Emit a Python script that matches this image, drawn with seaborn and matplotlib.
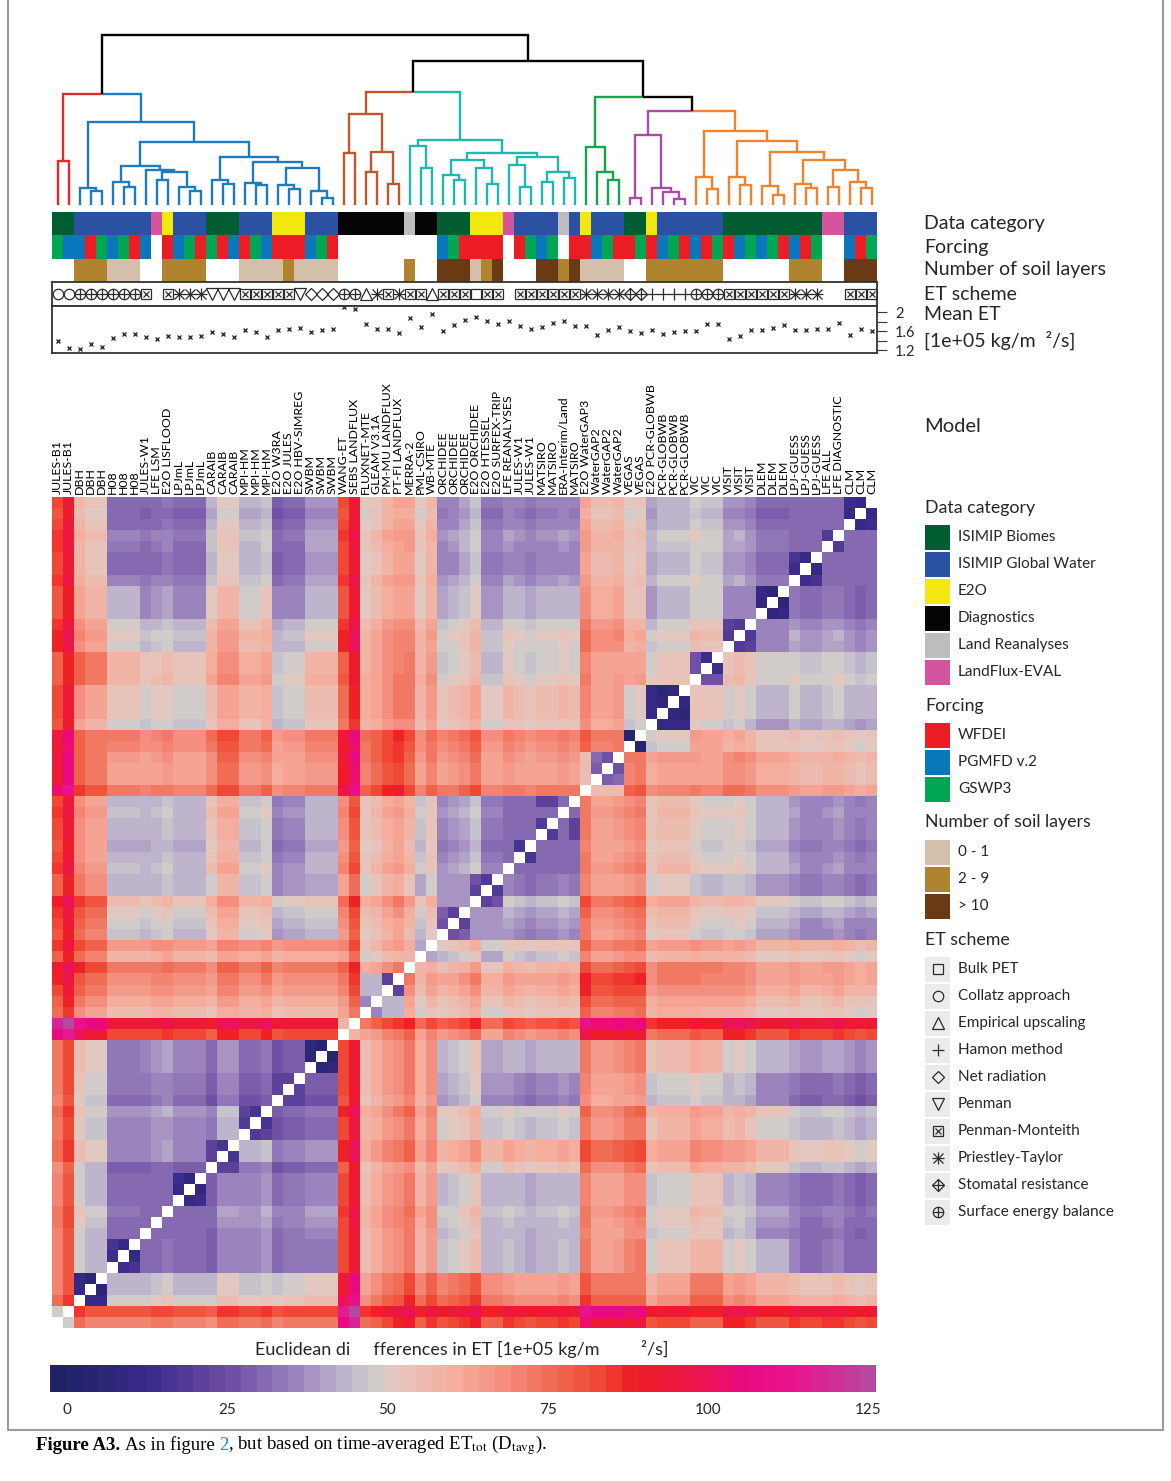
import numpy as np
import pandas as pd
import seaborn as sns
import matplotlib
matplotlib.use("Agg")
import matplotlib.pyplot as plt
from matplotlib.colors import LinearSegmentedColormap, ListedColormap, Normalize
from matplotlib.cm import ScalarMappable
from matplotlib.patches import Rectangle

sns.set_theme(style="white")
plt.rcParams['font.family'] = ['Lato', 'DejaVu Sans']
plt.rcParams['mathtext.fontset'] = 'stix'

# ---------------- data ----------------
models = ["JULES-B1", "JULES-B1", "DBH", "DBH", "DBH", "H08", "H08", "H08", "JULES-W1",
          "LFE LSM", "E2O LISFLOOD", "LPJmL", "LPJmL", "LPJmL", "CARAIB", "CARAIB", "CARAIB",
          "MPI-HM", "MPI-HM", "MPI-HM", "E2O W3RA", "E2O JULES", "E2O HBV-SIMREG",
          "SWBM", "SWBM", "SWBM", "WANG-ET", "SEBS LANDFLUX", "FLUXNET-MTE", "GLEAM V3.1A",
          "PM-MU LANDFLUX", "PT-FI LANDFLUX", "MERRA-2", "PML-CSIRO", "WB-MTE",
          "ORCHIDEE", "ORCHIDEE", "ORCHIDEE", "E2O ORCHIDEE", "E2O HTESSEL",
          "E2O SURFEX-TRIP", "LFE REANALYSES", "JULES-W1", "JULES-W1", "MATSIRO", "MATSIRO",
          "ERA-Interim/Land", "MATSIRO", "E2O WaterGAP3", "WaterGAP2", "WaterGAP2",
          "WaterGAP2", "VEGAS", "VEGAS", "E2O PCR-GLOBWB", "PCR-GLOBWB", "PCR-GLOBWB",
          "PCR-GLOBWB", "VIC", "VIC", "VIC", "VISIT", "VISIT", "VISIT", "DLEM", "DLEM", "DLEM",
          "LPJ-GUESS", "LPJ-GUESS", "LPJ-GUESS", "LFE ALL", "LFE DIAGNOSTIC", "CLM", "CLM", "CLM"]

# B biomes, W global water, E E2O, D diagnostics, R land reanalyses, L LandFlux-EVAL
category_codes = "BBWWWWWWWLEWWWBBBWWWEEEWWWDDDDDDRDDBBBEEELWWWWRWEWWWBBEWWWWWWBBBBBBBBBLLWWW"
# F WFDEI, P PGMFD v.2, G GSWP3, - none
forcing_codes = "GPPFGPGFP-FPGFGFPFGPFFFPGF---------PGFFFF-FGPG-FFPGFFGFPGFPFGFPGPGFPFG--PFG"
# s 0-1, m 2-9, d >10, - none
soil_codes = "--mmmsss--mmmm---ssssmssss------m--dddsmd---ddmdssss--mmmmmmm------mmm--ddd"
# ET scheme symbols
et_codes = "ooeeeeeex_x***vvvxxxxxvdddee^*x*xx^xxxsxx_xxxxxx****rr++++eeexxxxxx***__xxx"

mean_et = [1.40, 1.25, 1.22, 1.33, 1.27, 1.45, 1.55, 1.55, 1.47, 1.43,
           1.50, 1.47, 1.48, 1.49, 1.59, 1.54, 1.47, 1.62, 1.58, 1.47,
           1.63, 1.64, 1.66, 1.59, 1.62, 1.65, 2.11, 2.06, 1.75, 1.65,
           1.65, 1.57, 1.87, 1.69, 1.97, 1.61, 1.74, 1.83, 1.89, 1.81,
           1.76, 1.81, 1.71, 1.65, 1.68, 1.77, 1.81, 1.70, 1.71, 1.52,
           1.62, 1.68, 1.60, 1.57, 1.62, 1.54, 1.59, 1.61, 1.60, 1.76,
           1.75, 1.44, 1.49, 1.62, 1.63, 1.67, 1.73, 1.62, 1.63, 1.64,
           1.65, 1.78, 1.52, 1.64, 1.60]

# distance matrix, read block by block: model groups (start index of each block)
group_bounds = [0, 2, 5, 8, 14, 17, 20, 23, 26, 28, 32, 35, 41, 48, 52, 54, 58, 61, 67, 75]
# upper triangle of the block table (row g, columns g..18)
group_dist = [
    [47, 74, 75, 75, 77, 76, 77, 77, 115, 85, 87, 87, 87, 98, 97, 88, 81, 87, 87],
    [8, 42, 44, 47, 45, 48, 51, 100, 70, 76, 72, 64, 72, 72, 62, 72, 60, 52],
    [15, 30, 33, 36, 34, 34, 88, 62, 64, 48, 43, 64, 70, 52, 57, 45, 32],
    [30, 34, 36, 34, 37, 88, 62, 64, 46, 42, 62, 67, 48, 52, 40, 30],
    [18, 39, 33, 35, 90, 64, 66, 58, 58, 72, 78, 61, 65, 58, 48],
    [20, 28, 30, 90, 63, 66, 50, 46, 66, 72, 57, 60, 52, 42],
    [20, 28, 88, 62, 65, 42, 36, 62, 66, 48, 48, 40, 30],
    [6, 88, 62, 65, 45, 42, 65, 71, 56, 58, 45, 38],
    [57, 74, 75, 74, 74, 96, 96, 82, 84, 90, 88],
    [42, 58, 58, 58, 77, 79, 66, 64, 60, 56],
    [50, 50, 50, 68, 72, 64, 64, 58, 55],
    [38, 38, 66, 70, 55, 48, 45, 37],
    [30, 64, 68, 55, 48, 45, 35],
    [55, 70, 63, 62, 63, 55],
    [4, 48, 62, 55, 50],
    [10, 52, 45, 44],
    [18, 50, 45],
    [35, 34],
    [30],
]
# stripes: models that sit redder / bluer than their block
model_shift = {0: -4, 1: 6, 2: 5, 9: 2, 10: 3, 14: -5, 15: 3, 16: 3, 19: 3, 20: -2,
               26: -6, 27: 6, 28: -6, 29: -2, 30: 3, 31: 6, 32: 8, 33: -5, 34: 2,
               35: -2, 37: 3, 38: 8, 39: -4, 40: -4, 41: 2, 43: -2, 46: 2, 48: 8, 51: 2,
               53: 2, 54: -3, 58: 2, 61: 4, 62: 5, 63: 2, 64: -3, 65: -3, 66: -3, 67: 3,
               70: 2, 71: 3, 73: -2}
# dark pairs next to the diagonal
close_pairs = [(2, 3, 10), (2, 4, 12), (3, 4, 6), (5, 6, 14), (5, 7, 16), (6, 7, 12),
               (11, 12, 12), (11, 13, 14), (12, 13, 8), (14, 15, 20), (14, 16, 22), (15, 16, 15),
               (17, 18, 18), (17, 19, 20), (18, 19, 16), (23, 24, 6), (23, 25, 8), (24, 25, 4),
               (28, 29, 35), (30, 31, 20), (32, 33, 58), (32, 34, 60), (33, 34, 40),
               (35, 36, 25), (35, 37, 28), (36, 37, 22), (38, 39, 22), (38, 40, 25), (39, 40, 18),
               (42, 43, 15), (44, 45, 18), (44, 47, 20), (45, 47, 20),
               (49, 50, 28), (49, 51, 30), (50, 51, 25), (52, 53, 3),
               (54, 55, 12), (54, 56, 12), (54, 57, 12), (55, 56, 8), (55, 57, 6), (56, 57, 8),
               (58, 59, 25), (58, 60, 25), (59, 60, 14), (61, 62, 18), (61, 63, 20), (62, 63, 18),
               (64, 65, 8), (64, 66, 10), (65, 66, 6), (67, 68, 14), (67, 69, 16), (68, 69, 12),
               (70, 71, 18), (72, 73, 12), (72, 74, 14), (73, 74, 10)]

# dendrogram (left, right, merge height)
red_c = (0, 1, 132)
blue_c = ((2, (3, 4, 43), 52),
          (((5, (6, 7, 55), 70),
            (8, ((9, 10, 75), (11, (12, 13, 43), 55), 98), 104), 117),
           ((14, (15, 16, 63), 75),
            ((17, (18, 19, 60), 67),
             ((20, (21, 22, 49), 59), (23, (24, 25, 20), 42), 112), 130), 145), 190), 250)
brown_c = ((26, 27, 155), ((28, 29, 100), (30, 31, 63), 159), 273)
teal_c = ((32, (33, 34, 110), 178),
          (((35, (36, 37, 75), 90), (38, (39, 40, 63), 110), 135),
           ((41, (42, 43, 55), 119), ((44, 45, 70), (46, 47, 80), 99), 145), 157), 195)
green_c = (48, (49, (50, 51, 75), 100), 175)
purple_c = ((52, 53, 22), (54, (55, (56, 57, 17), 38), 50), 210)
orange_c = ((58, (59, 60, 47), 85),
            ((61, (62, 63, 60), 85),
             ((64, (65, 66, 31), 57),
              ((67, (68, 69, 50), 63), ((70, 71, 55), (72, (73, 74, 50), 70), 105), 135), 159),
             193), 223)
tree = ((red_c, blue_c, 333),
        ((brown_c, teal_c, 340), (green_c, (purple_c, orange_c, 283), 325), 433), 510)
cluster_spans = [(0, 1, '#e8262d'), (2, 25, '#1d7bc0'), (26, 31, '#c2562b'),
                 (32, 47, '#1fb8ae'), (48, 51, '#12a64b'), (52, 57, '#a64ea6'),
                 (58, 74, '#f2832e')]

cat_names = ["ISIMIP Biomes", "ISIMIP Global Water", "E2O", "Diagnostics",
             "Land Reanalyses", "LandFlux-EVAL"]
cat_colors = ["#035d32", "#2a51a2", "#f2e70f", "#050505", "#bdbdbd", "#d4549e"]
cat_keys = "BWEDRL"
forcing_names = ["WFDEI", "PGMFD v.2", "GSWP3"]
forcing_colors = ["#ec1c24", "#0a77bc", "#00a651"]
forcing_keys = "FPG"
soil_names = ["0 - 1", "2 - 9", "> 10"]
soil_colors = ["#d4bfab", "#b0832e", "#6a3a15"]
soil_keys = "smd"
et_names = ["Bulk PET", "Collatz approach", "Empirical upscaling", "Hamon method",
            "Net radiation", "Penman", "Penman-Monteith", "Priestley-Taylor",
            "Stomatal resistance", "Surface energy balance"]
et_keys = "so^+dvx*re"

cbar_stops = [(-2.6, "#1d2263"), (12, "#3a2a8a"), (25, "#6f4fa4"), (36, "#9e88c0"),
              (43, "#bfb5cc"), (47, "#cccccc"), (51, "#e4c8c0"), (60, "#f5b0a0"),
              (68, "#f49080"), (75, "#f07058"), (83, "#ef4a35"), (89, "#ee1c24"),
              (100, "#ec1450"), (106, "#ea0a80"), (115, "#e6168e"), (126.2, "#b8489e")]

# ---------------- build matrix ----------------
n = len(models)
ng = len(group_bounds) - 1
G = np.zeros((ng, ng))
for g, row in enumerate(group_dist):
    for k, v in enumerate(row):
        G[g, g + k] = v
        G[g + k, g] = v
grp = np.searchsorted(group_bounds, np.arange(n), side='right') - 1
shift = np.array([model_shift.get(i, 0) for i in range(n)], dtype=float)
D = G[grp][:, grp] + np.where(grp[:, None] != grp[None, :], shift[:, None] + shift[None, :], 0)
for i, j, v in close_pairs:
    D[i, j] = D[j, i] = v
np.fill_diagonal(D, np.nan)

vmin, vmax = -2.6, 126.2
cmap = LinearSegmentedColormap.from_list(
    "etdist", [((v - vmin) / (vmax - vmin), c) for v, c in cbar_stops], N=52)

# ---------------- figure ----------------
W, H = 1171, 1481
fig = plt.figure(figsize=(W / 100, H / 100), dpi=100)


def px_axes(x0, y0, x1, y1):
    return fig.add_axes([x0 / W, 1 - y1 / H, (x1 - x0) / W, (y1 - y0) / H])


# heatmap
ax_hm = px_axes(52, 497, 877, 1328)
sns.heatmap(pd.DataFrame(D[::-1]), ax=ax_hm, cmap=cmap, vmin=vmin, vmax=vmax,
            cbar=False, xticklabels=False, yticklabels=False)

# dendrogram
ax_d = px_axes(52, 30, 877, 207)


def leaves(node):
    if isinstance(node, int):
        return [node]
    return leaves(node[0]) + leaves(node[1])


def node_color(node):
    lv = leaves(node)
    for a, b, c in cluster_spans:
        if a <= min(lv) and max(lv) <= b:
            return c
    return 'black'


def draw(node):
    if isinstance(node, int):
        return node + 0.5, 0.0
    left, right, h = node
    pos = [draw(left), draw(right)]
    px = (pos[0][0] + pos[1][0]) / 2
    for child, (cx, ch) in zip((left, right), pos):
        ax_d.plot([cx, cx, px], [ch, h, h], color=node_color(child), lw=1.7,
                  solid_joinstyle='miter', solid_capstyle='butt')
    return px, h


draw(tree)
ax_d.set_xlim(0, n)
ax_d.set_ylim(-6, 525)
ax_d.axis('off')

# annotation bars
ax_a = px_axes(52, 212, 877, 282)
bar_colors = cat_colors + forcing_colors + soil_colors + ["#ffffff"]
white = len(bar_colors) - 1


def code_row(codes, keys, offset):
    return [offset + keys.index(c) if c in keys else white for c in codes]


bars = np.array([code_row(category_codes, cat_keys, 0),
                 code_row(forcing_codes, forcing_keys, 6),
                 code_row(soil_codes, soil_keys, 9)])
sns.heatmap(bars, ax=ax_a, cmap=ListedColormap(bar_colors), vmin=-0.5,
            vmax=len(bar_colors) - 0.5, cbar=False, xticklabels=False, yticklabels=False)

SYM = '#2b2b2b'


def symbol(ax, x, y, code, s=1.0):
    kw = dict(ls='none', mfc='none', mec=SYM, mew=0.9)
    if code == 's':
        ax.plot(x, y, 's', ms=7 * s, **kw)
    elif code == 'o':
        ax.plot(x, y, 'o', ms=7.5 * s, **kw)
    elif code == '^':
        ax.plot(x, y, '^', ms=8 * s, **kw)
    elif code == 'v':
        ax.plot(x, y, 'v', ms=8 * s, **kw)
    elif code == '+':
        ax.plot(x, y, '+', ms=9 * s, **kw)
    elif code == 'd':
        ax.plot(x, y, 'D', ms=6.5 * s, **kw)
    elif code == 'x':
        ax.plot(x, y, 's', ms=7 * s, **kw)
        ax.plot(x, y, 'x', ms=5 * s, **kw)
    elif code == '*':
        ax.plot(x, y, '+', ms=9 * s, **kw)
        ax.plot(x, y, 'x', ms=7 * s, **kw)
    elif code == 'r':
        ax.plot(x, y, 'D', ms=6.5 * s, **kw)
        ax.plot(x, y, '+', ms=9 * s, **kw)
    elif code == 'e':
        ax.plot(x, y, 'o', ms=7.5 * s, **kw)
        ax.plot(x, y, '+', ms=7.5 * s, **kw)


# ET scheme row
ax_s = px_axes(52, 282, 877, 306)
for i, c in enumerate(et_codes):
    symbol(ax_s, i + 0.5, 0.5, c)
ax_s.set_xlim(0, n)
ax_s.set_ylim(0, 1)
ax_s.set_xticks([])
ax_s.set_yticks([])

# mean ET row
ax_m = px_axes(52, 306, 877, 353)
ax_m.plot(np.arange(n) + 0.5, mean_et, 'x', ms=3, mew=1.0, color='#333333', ls='none')
ax_m.set_xlim(0, n)
ax_m.set_ylim(1.14, 2.13)
ax_m.set_xticks([])
ax_m.yaxis.tick_right()
ax_m.set_yticks([1.2, 1.4, 1.6, 1.8, 2.0])
ax_m.set_yticklabels(['1.2', '', '1.6', '', '2'])
ax_m.tick_params(axis='y', direction='out', length=7, width=0.8, pad=6,
                 labelsize=10.5, color='#333333', right=True, left=False)
for a in (ax_s, ax_m):
    for sp in a.spines.values():
        sp.set_color('#333333')
        sp.set_linewidth(1.3)
        sp.set_visible(True)

# colorbar
cax = px_axes(50, 1365, 876, 1392)
cb = fig.colorbar(ScalarMappable(Normalize(vmin, vmax), cmap), cax=cax,
                  orientation='horizontal')
cb.set_ticks([0, 25, 50, 75, 100, 125])
cb.outline.set_visible(False)
cax.tick_params(axis='x', direction='in', color='white', length=5, width=1,
                top=True, bottom=True, labelsize=11, pad=8)

# overlay for texts and legend, in pixel coordinates
ov = fig.add_axes([0, 0, 1, 1])
ov.set_xlim(0, W)
ov.set_ylim(H, 0)
ov.axis('off')
ov.patch.set_alpha(0)

for x0, y0, x1, y1 in [(8, 0, 8, 1430), (1163, 0, 1163, 1430), (8, 1430, 1163, 1430)]:
    ov.plot([x0, x1], [y0, y1], color='#9a9a9a', lw=1.5)

for i, name in enumerate(models):
    ov.text(57.5 + 11 * i, 494, name, rotation=90, ha='center', va='bottom',
            fontsize=8.9, color='black')

for label, y in [("Data category", 224), ("Forcing", 247), ("Number of soil layers", 270),
                 ("ET scheme", 294), ("Mean ET", 315), ("[1e+05 kg/m  ²/s]", 340)]:
    ov.text(924, y, label, ha='left', va='center', fontsize=14)
ov.text(924, 426, "Model", ha='left', va='center', fontsize=14.5)


def legend_block(title, y_title, names, y0, colors=None, codes=None):
    ov.text(925, y_title, title, ha='left', va='center', fontsize=12.8)
    for k, nm in enumerate(names):
        y = y0 + 27 * k
        face = colors[k] if colors is not None else '#ebebeb'
        ov.add_patch(Rectangle((925, y - 12.5), 25, 25, facecolor=face, edgecolor='none'))
        if codes is not None:
            symbol(ov, 937.5, y, codes[k])
        ov.text(958, y, nm, ha='left', va='center', fontsize=11)


legend_block("Data category", 508, cat_names, 537, colors=cat_colors)
legend_block("Forcing", 706, forcing_names, 735, colors=forcing_colors)
legend_block("Number of soil layers", 822, soil_names, 852, colors=soil_colors)
legend_block("ET scheme", 940, et_names, 969, codes=et_keys)

ov.text(462, 1349, "Euclidean di     fferences in ET [1e+05 kg/m         ²/s]",
        ha='center', va='center', fontsize=13)

# caption
renderer = fig.canvas.get_renderer()
serif = ['Liberation Serif', 'DejaVu Serif']
pieces = [("Figure A3.", 'bold', 'black', 5), ("As in figure", 'normal', 'black', 4),
          ("2", 'normal', '#1f8ec9', 0),
          (", but based on time-averaged ET$_{\\rm tot}$ (D$_{\\rm tavg}$).", 'normal', 'black', 0)]
x = 36
for s, wt, col, gap in pieces:
    t = ov.text(x, 1445, s, ha='left', va='center', fontsize=13.5, family=serif,
                fontweight=wt, color=col)
    x += t.get_window_extent(renderer).width + gap

fig.savefig("out.png", dpi=100)
